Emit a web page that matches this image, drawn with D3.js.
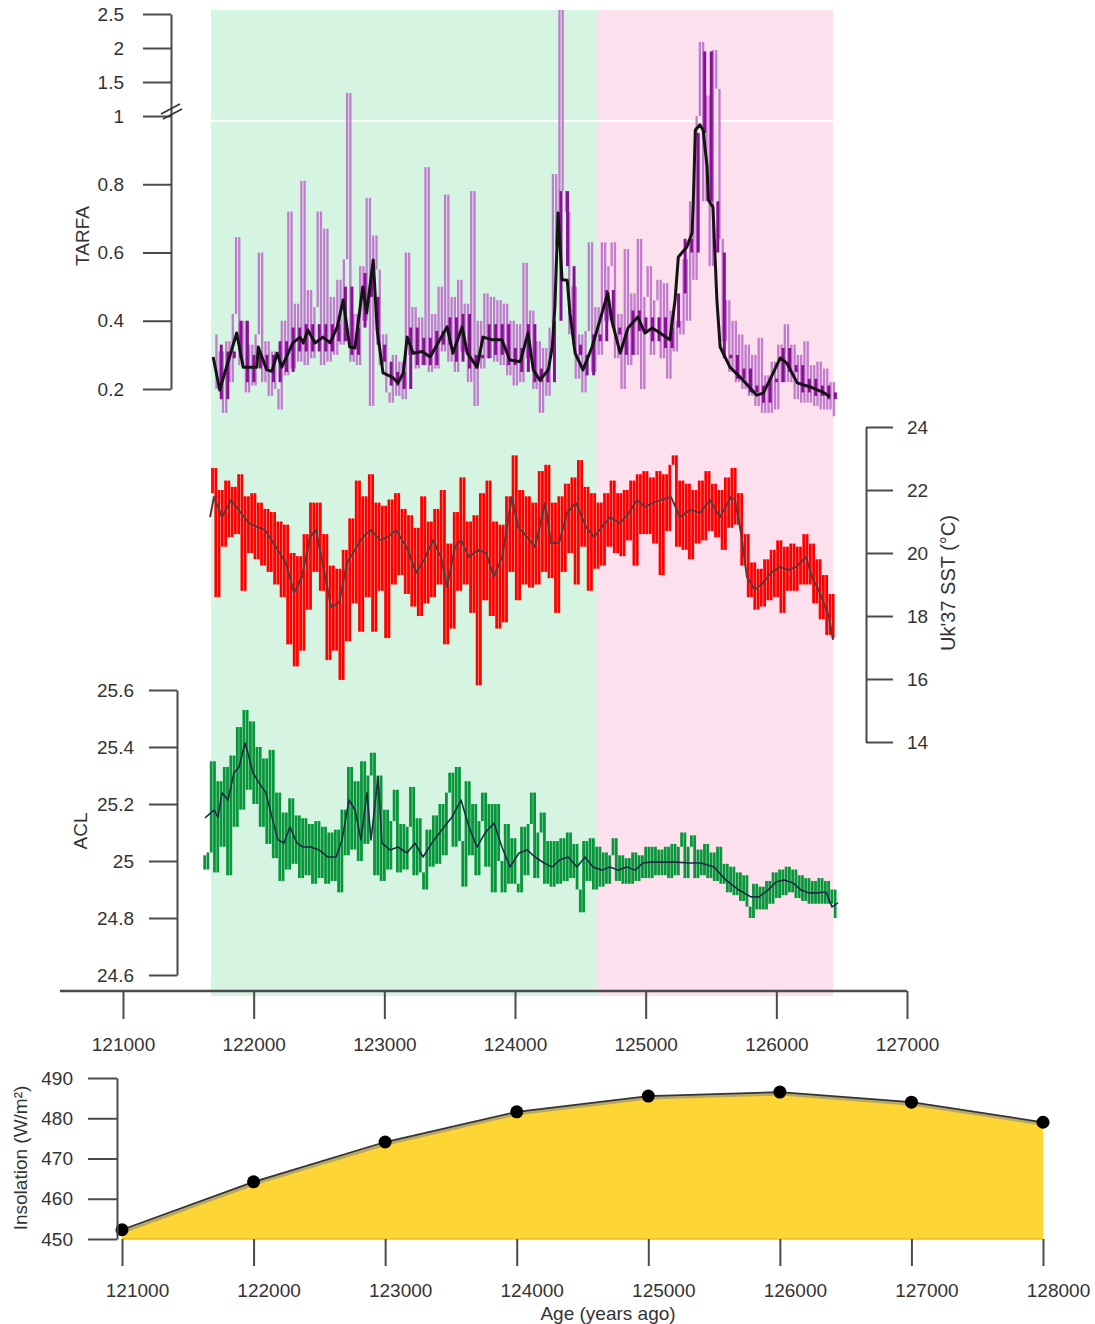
<!DOCTYPE html>
<html>
<head>
<meta charset="utf-8">
<script src="https://cdn.jsdelivr.net/npm/d3@7"></script>
<style>
  body { margin: 0; background: #fff; }
  svg text { font-family: "Liberation Sans", Arial, sans-serif; fill: #333; }
</style>
</head>
<body>
<div id="chart-container"></div>
<script>
/**************************************************
 * Data
 **************************************************/

// Age ticks (years ago)
const mainAgeTicks = [121000, 122000, 123000, 124000, 125000, 126000, 127000];
const insAgeTicks = [121000, 122000, 123000, 124000, 125000, 126000, 127000, 128000];

// Shaded periods: green from first to second bound, pink from second to third
const periodBounds = [121673, 124635, 126434];

// Axis ticks
const tarfaTicks = [0.2, 0.4, 0.6, 0.8, 1, 1.5, 2, 2.5];
const sstTicks = [14, 16, 18, 20, 22, 24];
const aclTicks = [24.6, 24.8, 25, 25.2, 25.4, 25.6];
const insTicks = [450, 460, 470, 480, 490];

// TARFA raw samples (every 25 yr from tarfaStart)
const tarfaStart = 121690, tarfaStep = 25;
const tarfaRaw = [
  0.36,0.20,0.31,0.13,0.34,0.22,0.42,0.645,0.27,0.40,
  0.19,0.33,0.21,0.36,0.60,0.22,0.34,0.18,0.31,0.20,
  0.14,0.40,0.24,0.72,0.26,0.45,0.28,0.81,0.27,0.49,
  0.29,0.44,0.72,0.27,0.67,0.28,0.47,0.30,0.52,0.33,
  0.58,1.34,0.28,0.42,0.27,0.56,0.40,0.76,0.15,0.65,
  0.55,0.27,0.36,0.19,0.16,0.30,0.18,0.28,0.17,0.60,
  0.30,0.44,0.26,0.41,0.27,0.85,0.25,0.42,0.26,0.50,
  0.31,0.77,0.28,0.47,0.25,0.52,0.31,0.45,0.22,0.78,
  0.15,0.40,0.26,0.48,0.29,0.47,0.28,0.46,0.27,0.45,
  0.24,0.40,0.21,0.39,0.22,0.57,0.29,0.43,0.20,0.34,
  0.13,0.32,0.18,0.38,0.83,0.62,2.56,0.78,0.72,0.36,
  0.50,0.23,0.36,0.19,0.37,0.63,0.25,0.44,0.30,0.63,
  0.40,0.56,0.63,0.29,0.42,0.20,0.61,0.27,0.48,0.30,
  0.64,0.20,0.47,0.56,0.30,0.46,0.52,0.29,0.51,0.23,
  0.43,0.31,0.40,0.36,0.58,0.40,0.75,0.52,1.00,2.09,
  0.75,1.30,0.56,1.97,1.40,0.64,0.34,0.46,0.25,0.40,
  0.22,0.36,0.20,0.33,0.18,0.30,0.15,0.35,0.13,0.24,
  0.13,0.28,0.14,0.33,0.22,0.39,0.22,0.33,0.17,0.30,
  0.16,0.34,0.16,0.27,0.15,0.28,0.14,0.26,0.14,0.22,
  0.12
];

// TARFA inner (darker) samples, every 50 yr
const tarfaDarkStep = 50;
const tarfaDark = [
  0.33,0.17,0.31,0.29,0.40,0.22,0.30,0.26,0.30,0.22,
  0.34,0.25,0.38,0.31,0.39,0.31,0.39,0.31,0.39,0.34,
  0.50,0.30,0.38,0.54,0.47,0.33,0.28,0.21,0.25,0.20,
  0.38,0.27,0.35,0.27,0.37,0.33,0.41,0.28,0.42,0.26,
  0.30,0.29,0.39,0.30,0.39,0.27,0.32,0.25,0.39,0.22,
  0.26,0.22,0.40,0.78,0.56,0.33,0.30,0.24,0.36,0.34,
  0.49,0.38,0.36,0.30,0.43,0.37,0.41,0.34,0.41,0.32,
  0.38,0.48,0.64,0.60,0.95,1.95,0.75,0.60,0.29,0.30,
  0.23,0.26,0.19,0.21,0.16,0.23,0.22,0.32,0.25,0.27,
  0.19,0.23,0.18,0.21,0.17,0.19
];

// TARFA smoothed curve
const tarfaSmoothAge = [
  121690,121740,121870,121920,122025,122035,122100,122140,122180,122215,
  122300,122355,122380,122415,122470,122530,122585,122640,122685,122735,
  122775,122815,122835,122865,122915,122945,122990,123060,123105,123145,
  123175,123220,123290,123350,123425,123480,123525,123595,123635,123710,
  123755,123830,123900,123960,124040,124100,124140,124190,124255,124285,
  124305,124330,124360,124400,124420,124460,124520,124590,124635,124650,
  124710,124740,124805,124865,124940,124995,125050,125110,125185,125225,
  125250,125315,125355,125365,125380,125415,125440,125470,125480,125515,
  125545,125570,125645,125745,125850,125900,125950,126030,126080,126160,
  126260,126355,126410
];
const tarfaSmooth = [
  0.294,0.197,0.364,0.264,0.264,0.323,0.256,0.252,0.305,0.264,
  0.335,0.352,0.335,0.373,0.335,0.352,0.335,0.382,0.461,0.323,
  0.320,0.440,0.499,0.423,0.578,0.373,0.247,0.235,0.218,0.247,
  0.352,0.305,0.310,0.294,0.344,0.382,0.305,0.382,0.305,0.264,
  0.352,0.344,0.344,0.285,0.280,0.364,0.256,0.226,0.256,0.323,
  0.440,0.716,0.520,0.519,0.423,0.305,0.256,0.323,0.382,0.402,
  0.481,0.402,0.305,0.379,0.411,0.364,0.379,0.364,0.344,0.461,
  0.587,0.616,0.657,0.754,0.959,0.974,0.959,0.851,0.754,0.733,
  0.461,0.323,0.264,0.226,0.182,0.188,0.226,0.291,0.276,0.218,
  0.206,0.191,0.177
];

// Uk'37 SST raw samples (every 25 yr from sstStart)
const sstStart = 121660, sstStep = 25;
const sstRaw = [
  21.9,22.7,18.6,22.0,20.2,22.3,20.5,22.1,20.6,22.5,
  18.8,21.8,20.0,21.9,19.8,21.6,19.6,21.4,19.4,21.3,
  19.0,21.0,18.6,20.9,17.1,20.0,16.4,19.9,16.9,20.6,
  18.2,21.6,19.4,21.6,18.8,20.6,16.6,19.6,16.9,19.5,
  15.97,20.1,17.2,21.1,18.4,22.3,17.5,21.8,18.6,22.5,
  17.5,21.6,18.8,21.5,17.3,21.7,19.0,21.9,19.3,21.4,
  18.7,21.2,18.3,20.8,18.0,21.8,18.4,21.0,18.6,21.4,
  19.0,22.0,17.1,20.3,17.6,21.3,18.8,22.4,19.0,21.0,
  18.1,21.2,15.8,21.9,18.5,22.3,18.0,21.0,17.6,20.9,
  17.8,21.8,19.4,23.1,18.5,22.0,19.0,21.8,18.9,21.6,
  19.0,22.6,19.4,22.8,19.2,21.6,18.1,21.8,19.4,22.2,
  20.0,22.4,19.0,22.95,20.2,22.1,18.8,21.9,19.5,21.6,
  19.6,21.9,20.2,22.3,20.0,21.9,19.9,22.0,20.4,22.3,
  19.6,22.5,20.6,22.6,20.6,22.4,20.3,22.6,19.3,22.5,
  20.7,22.8,23.1,20.2,22.3,20.1,22.2,19.8,22.0,20.3,
  22.3,20.4,22.6,20.7,22.2,20.5,22.0,20.1,22.4,20.8,
  22.7,20.9,21.9,19.6,20.6,18.6,19.7,18.2,19.5,18.3,
  19.8,18.5,20.1,18.6,20.4,18.1,20.2,18.8,20.3,18.8,
  20.2,19.0,20.6,19.0,20.3,18.4,19.8,17.9,19.3,17.4,
  18.7,17.3
];

// SST smoothed curve
const sstSmoothAge = [
  121666,121696,121758,121827,121903,121964,122025,122087,122171,122247,
  122309,122370,122431,122477,122523,122592,122653,122714,122776,122837,
  122898,122967,123028,123089,123181,123242,123304,123372,123434,123480,
  123541,123587,123648,123717,123778,123839,123901,123977,124023,124092,
  124153,124230,124275,124337,124398,124467,124543,124605,124666,124727,
  124804,124872,124934,124995,125056,125117,125194,125263,125339,125416,
  125492,125569,125653,125684,125730,125775,125837,125898,125959,126028,
  126089,126151,126227,126273,126334,126403,126434
];
const sstSmooth = [
  21.14,21.78,21.14,21.68,21.27,20.95,20.83,20.73,20.19,19.68,
  18.73,19.24,20.51,20.73,19.78,18.29,18.41,19.68,20.10,20.51,
  20.73,20.41,20.51,20.73,20.10,19.37,19.78,20.41,19.87,18.92,
  20.19,20.41,19.87,20.10,20.00,19.24,19.87,21.78,20.83,20.51,
  20.19,21.59,20.32,20.32,21.27,21.59,20.83,20.51,20.83,21.14,
  20.95,21.27,21.68,21.46,21.59,21.68,21.78,21.14,21.37,21.27,
  21.68,21.14,21.78,21.68,20.62,19.24,18.83,19.05,19.37,19.56,
  19.46,19.56,19.87,19.24,18.73,17.97,17.24
];

// ACL raw samples (every 25 yr from aclStart)
const aclStart = 121600, aclStep = 25;
const aclRaw = [
  25.02,24.97,25.03,25.35,24.96,25.28,25.05,25.33,24.95,25.37,
  25.12,25.47,25.18,25.53,25.25,25.49,25.20,25.40,25.12,25.36,
  25.06,25.39,25.01,25.24,24.93,25.17,24.97,25.22,24.99,25.16,
  24.94,25.15,24.95,25.13,24.92,25.14,24.94,25.12,24.92,25.10,
  24.93,25.11,24.89,25.18,25.02,25.33,25.04,25.28,25.00,25.35,
  25.06,25.30,25.38,24.95,25.30,24.93,25.18,24.97,25.14,25.25,
  24.96,25.13,24.97,25.12,25.26,24.95,25.15,24.96,24.90,25.11,
  24.98,25.16,24.99,25.20,25.02,25.24,25.31,25.05,25.33,25.07,
  24.91,25.28,25.02,25.20,24.95,25.14,25.24,24.98,25.20,24.89,
  25.20,25.00,24.89,25.13,24.92,25.08,24.92,24.89,25.12,24.95,
  25.13,25.24,24.94,25.10,25.17,24.92,25.07,24.91,25.07,24.92,
  25.08,24.93,25.10,24.94,25.06,24.90,24.82,25.07,24.93,25.08,
  24.90,25.05,24.91,25.03,24.92,25.02,25.08,24.93,25.02,24.92,
  25.01,24.92,25.03,24.93,25.02,24.94,25.05,24.94,25.05,24.95,
  25.04,24.95,25.05,24.94,25.06,24.95,25.05,25.10,24.94,25.05,
  25.09,24.94,25.04,24.95,25.06,24.94,25.03,24.93,25.05,24.92,
  24.99,24.89,24.98,24.88,24.96,24.86,24.95,24.84,24.80,24.92,
  24.83,24.91,24.83,24.93,24.85,24.96,24.87,24.97,24.88,24.98,
  24.89,24.97,24.87,24.95,24.86,24.94,24.85,24.93,24.85,24.94,
  24.85,24.93,24.85,24.90,24.80
];

// ACL smoothed curve
const aclSmoothAge = [
  121628,121696,121727,121758,121804,121849,121888,121934,121964,121995,
  122041,122094,122140,122186,122232,122278,122332,122378,122439,122500,
  122569,122630,122676,122730,122776,122821,122867,122898,122952,122982,
  123043,123105,123173,123235,123296,123380,123457,123518,123587,123648,
  123709,123770,123839,123900,123962,124031,124092,124153,124222,124283,
  124344,124406,124474,124536,124597,124666,124727,124788,124857,124918,
  124980,125041,125140,125232,125332,125423,125523,125615,125714,125806,
  125867,125936,125997,126059,126128,126189,126250,126311,126380,126426,
  126472
];
const aclSmooth = [
  25.151,25.179,25.154,25.239,25.214,25.309,25.330,25.414,25.365,25.309,
  25.274,25.239,25.154,25.074,25.063,25.119,25.063,25.049,25.049,25.039,
  25.014,25.014,25.074,25.214,25.179,25.074,25.239,25.074,25.295,25.063,
  25.039,25.049,25.028,25.063,25.014,25.074,25.119,25.154,25.214,25.119,
  25.049,25.098,25.133,25.049,24.979,25.028,25.039,25.014,24.993,24.979,
  25.004,25.014,24.979,25.014,24.979,24.968,24.979,24.968,24.979,24.968,
  24.993,24.996,24.996,24.996,24.993,24.993,24.979,24.933,24.898,24.874,
  24.874,24.898,24.926,24.933,24.923,24.898,24.888,24.888,24.891,24.839,
  24.853
];

// Insolation (W/m2) at 1 kyr steps
const insAge = [121000, 122000, 123000, 124000, 125000, 126000, 127000, 128000];
const insValue = [452.3, 464.2, 474.1, 481.6, 485.5, 486.5, 484.0, 479.0];

/**************************************************
 * Rendering
 **************************************************/

const W = 1095, H = 1324;
const axisColor = "#4a4a4a";
const tickFont = 19;

function styleAxis(g, fontSize) {
  g.selectAll("path.domain").attr("stroke", axisColor).attr("stroke-width", 2);
  g.selectAll(".tick line").attr("stroke", axisColor).attr("stroke-width", 2);
  g.selectAll(".tick text")
    .attr("font-size", fontSize + "px")
    .attr("font-family", "'Liberation Sans', Arial, sans-serif")
    .attr("fill", "#333");
}

function renderChart() {
  const svg = d3.select("#chart-container")
    .append("svg")
    .attr("width", W)
    .attr("height", H);

  svg.append("rect").attr("width", W).attr("height", H).attr("fill", "#fff");

  // Scales
  const x = d3.scaleLinear().domain([121000, 127000]).range([123, 907]);
  const tarfaY = d3.scaleLinear().domain([0.2, 1, 2.5]).range([389, 116, 14]);
  const sstY = d3.scaleLinear().domain([14, 24]).range([742, 427]);
  const aclY = d3.scaleLinear().domain([24.6, 25.6]).range([975, 690]);
  const insX = d3.scaleLinear().domain([121000, 128000]).range([122, 1043]);
  const insY = d3.scaleLinear().domain([450, 490]).range([1239, 1078]);

  // Period bands
  const bandColors = ["#d5f5e2", "#fde0ee"];
  svg.selectAll("rect.band")
    .data(d3.pairs(periodBounds))
    .join("rect")
    .attr("class", "band")
    .attr("x", d => x(d[0]))
    .attr("width", d => x(d[1]) - x(d[0]))
    .attr("y", 10)
    .attr("height", 986)
    .attr("fill", (d, i) => bandColors[i]);

  // White line marking the axis break
  svg.append("line")
    .attr("x1", x(periodBounds[0])).attr("x2", x(periodBounds[2]))
    .attr("y1", tarfaY(1) + 5).attr("y2", tarfaY(1) + 5)
    .attr("stroke", "#fff").attr("stroke-width", 2);

  function drawSeries(ages, values, yScale, color, width) {
    const line = d3.line()
      .x((d, i) => x(ages[i]))
      .y(d => yScale(d));
    svg.append("path")
      .datum(values)
      .attr("d", line)
      .attr("fill", "none")
      .attr("stroke", color)
      .attr("stroke-width", width)
      .attr("stroke-linejoin", "round");
  }

  // Raw record as vertical strokes: each sample joins the previous value to its own
  function drawStrokes(start, step, values, yScale, color, width) {
    const segs = values.slice(1).map((v, i) => ({ age: start + (i + 1) * step, v0: values[i], v1: v }));
    svg.append("g")
      .selectAll("line")
      .data(segs)
      .join("line")
      .attr("x1", d => x(d.age)).attr("x2", d => x(d.age))
      .attr("y1", d => yScale(d.v0)).attr("y2", d => yScale(d.v1))
      .attr("stroke", color)
      .attr("stroke-width", width);
  }

  // TARFA
  drawStrokes(tarfaStart, tarfaStep, tarfaRaw, tarfaY, "#c27ccd", 2.3);
  drawStrokes(tarfaStart + 12, tarfaDarkStep, tarfaDark, tarfaY, "#8a0f96", 3);
  drawSeries(tarfaSmoothAge, tarfaSmooth, tarfaY, "#141414", 3);

  // SST
  drawStrokes(sstStart, sstStep, sstRaw, sstY, "#ff0000", 2.8);
  drawSeries(sstSmoothAge, sstSmooth, sstY, "#5e3838", 2);

  // ACL
  drawStrokes(aclStart, aclStep, aclRaw, aclY, "#07963a", 2.8);
  drawSeries(aclSmoothAge, aclSmooth, aclY, "#1d2c44", 1.6);

  // TARFA axis
  const gT = svg.append("g")
    .attr("transform", "translate(171,0)")
    .call(d3.axisLeft(tarfaY).tickValues(tarfaTicks).tickSize(28).tickSizeOuter(0)
      .tickPadding(19).tickFormat(d3.format("~g")));
  styleAxis(gT, tickFont);

  // Axis break marks
  const brk = svg.append("g").attr("transform", `translate(171,${tarfaY(1) - 7})`);
  brk.append("path").attr("d", "M-10,5L9,-5").attr("stroke", "#333").attr("stroke-width", 1.6);
  brk.append("path").attr("d", "M-8,10L11,0").attr("stroke", "#333").attr("stroke-width", 1.6);

  // SST axis
  const gS = svg.append("g")
    .attr("transform", "translate(866,0)")
    .call(d3.axisRight(sstY).tickValues(sstTicks).tickSize(27).tickSizeOuter(0).tickPadding(14));
  styleAxis(gS, tickFont);

  // ACL axis
  const gA = svg.append("g")
    .attr("transform", "translate(177,0)")
    .call(d3.axisLeft(aclY).tickValues(aclTicks).tickSize(28).tickSizeOuter(0)
      .tickPadding(15).tickFormat(d3.format("~g")));
  styleAxis(gA, tickFont);

  // Main age axis
  svg.append("line")
    .attr("x1", 60).attr("x2", x(127000))
    .attr("y1", 991).attr("y2", 991)
    .attr("stroke", axisColor).attr("stroke-width", 2.5);
  const gX = svg.append("g")
    .attr("transform", "translate(0,991)")
    .call(d3.axisBottom(x).tickValues(mainAgeTicks).tickSize(28).tickSizeOuter(0)
      .tickPadding(19).tickFormat(d3.format("d")));
  gX.select("path.domain").remove();
  styleAxis(gX, tickFont);

  // Axis titles
  const title = (tx, ty, txt, rot, size) => svg.append("text")
    .attr("transform", `translate(${tx},${ty})` + (rot ? " rotate(-90)" : ""))
    .attr("text-anchor", "middle")
    .attr("dominant-baseline", "central")
    .attr("font-size", size + "px")
    .text(txt);
  title(82, 236, "TARFA", true, 19);
  title(948, 583, "Uk'37 SST (°C)", true, 20);
  title(80, 831, "ACL", true, 19);

  /********** Insolation panel **********/
  const area = d3.area()
    .x((d, i) => insX(insAge[i]))
    .y0(insY(450))
    .y1(d => insY(d));
  svg.append("path")
    .datum(insValue)
    .attr("d", area)
    .attr("fill", "#fdd535");
  svg.append("line")
    .attr("x1", insX(121000)).attr("x2", insX(128000))
    .attr("y1", insY(450)).attr("y2", insY(450))
    .attr("stroke", "#e8c020").attr("stroke-width", 1.5);

  const insLine = d3.line().x((d, i) => insX(insAge[i])).y(d => insY(d));
  svg.append("path")
    .datum(insValue)
    .attr("d", insLine)
    .attr("transform", "translate(1,2)")
    .attr("fill", "none")
    .attr("stroke", "#8a8a8a")
    .attr("stroke-opacity", 0.6)
    .attr("stroke-width", 3);
  svg.append("path")
    .datum(insValue)
    .attr("d", insLine)
    .attr("fill", "none")
    .attr("stroke", "#333")
    .attr("stroke-width", 1.8);

  svg.selectAll("circle.ins")
    .data(insValue)
    .join("circle")
    .attr("class", "ins")
    .attr("cx", (d, i) => insX(insAge[i]))
    .attr("cy", d => insY(d))
    .attr("r", 6.5)
    .attr("fill", "#000");

  const gIY = svg.append("g")
    .attr("transform", "translate(117,0)")
    .call(d3.axisLeft(insY).tickValues(insTicks).tickSize(29).tickSizeOuter(0).tickPadding(15));
  styleAxis(gIY, tickFont);

  const gIX = svg.append("g")
    .attr("transform", `translate(0,${insY(450)})`)
    .call(d3.axisBottom(insX).tickValues(insAgeTicks).tickSize(27).tickSizeOuter(0)
      .tickPadding(18).tickFormat(d3.format("d")));
  gIX.select("path.domain").remove();
  styleAxis(gIX, tickFont);
  gIX.selectAll(".tick text").attr("dx", 15);

  title(20, 1158, "Insolation (W/m²)", true, 19);
  title(608, 1313, "Age (years ago)", false, 19);
}

renderChart();
</script>
</body>
</html>
